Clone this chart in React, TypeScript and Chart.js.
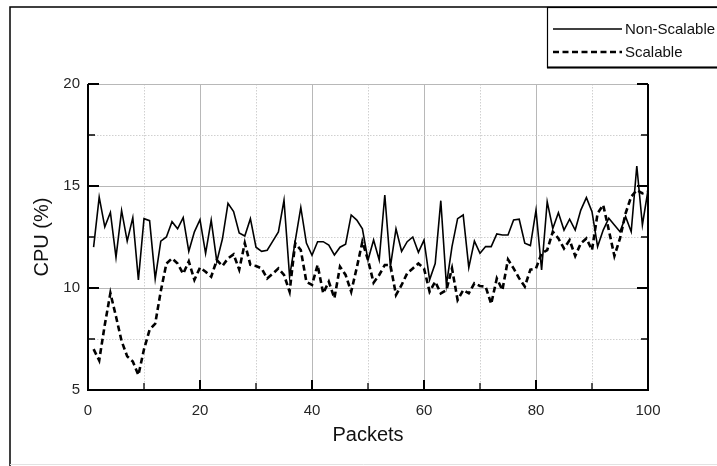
import React, { useEffect, useRef } from 'react';
import { Chart, registerables } from 'chart.js';

Chart.register(...registerables);

const packets = [
  1, 2, 3, 4, 5, 6, 7, 8, 9, 10, 11, 12, 13, 14, 15, 16, 17, 18, 19, 20,
  21, 22, 23, 24, 25, 26, 27, 28, 29, 30, 31, 32, 33, 34, 35, 36, 37, 38, 39, 40,
  41, 42, 43, 44, 45, 46, 47, 48, 49, 50, 51, 52, 53, 54, 55, 56, 57, 58, 59, 60,
  61, 62, 63, 64, 65, 66, 67, 68, 69, 70, 71, 72, 73, 74, 75, 76, 77, 78, 79, 80,
  81, 82, 83, 84, 85, 86, 87, 88, 89, 90, 91, 92, 93, 94, 95, 96, 97, 98, 99, 100,
];

const nonScalable = [
  12.0, 14.45, 13.0, 13.7, 11.5, 13.8, 12.3, 13.45, 10.4, 13.4,
  13.3, 10.45, 12.3, 12.5, 13.25, 12.9, 13.45, 11.8, 12.75, 13.35,
  11.7, 13.33, 11.3, 12.4, 14.15, 13.75, 12.7, 12.55, 13.4, 12.0,
  11.8, 11.85, 12.3, 12.75, 14.3, 10.55, 12.3, 13.95, 12.2, 11.6,
  12.27, 12.27, 12.1, 11.62, 12.0, 12.15, 13.58, 13.33, 12.9, 11.37,
  12.35, 11.37, 14.56, 11.05, 12.9, 11.8, 12.27, 12.5, 11.75, 12.35,
  10.4, 11.2, 14.28, 10.15, 12.03, 13.4, 13.58, 11.0, 12.3, 11.7,
  12.03, 12.03, 12.65, 12.6, 12.6, 13.33, 13.37, 12.2, 12.08, 13.82,
  10.88, 14.23, 12.92, 13.69, 12.84, 13.37, 12.84, 13.82, 14.43, 13.74,
  12.03, 12.84, 13.42, 13.09, 12.76, 13.5, 12.76, 15.98, 13.09, 14.8,
];

const scalable = [
  7.0, 6.45, 8.2, 9.75, 8.6, 7.4, 6.65, 6.4, 5.73, 7.0,
  7.95, 8.25, 9.85, 11.2, 11.45, 11.2, 10.7, 11.3, 10.4, 11.0,
  10.8, 10.55, 11.37, 11.08, 11.45, 11.65, 10.9, 12.2, 11.13, 11.08,
  10.96, 10.47, 10.7, 10.96, 10.64, 9.82, 12.2, 11.86, 10.3, 10.15,
  11.13, 9.74, 10.31, 9.5, 11.05, 10.64, 9.82, 11.0, 12.27, 11.37,
  10.26, 10.64, 11.13, 11.13, 9.66, 10.15, 10.72, 10.96, 11.2, 10.96,
  9.82, 10.31, 9.74, 9.9, 10.96, 9.41, 9.9, 9.74, 10.23, 10.1,
  10.07, 9.22, 10.47, 9.9, 11.4, 10.96, 10.47, 10.07, 10.9, 10.96,
  11.7, 11.86, 12.76, 12.43, 11.94, 12.35, 11.57, 12.19, 12.43, 11.86,
  13.66, 14.07, 12.84, 11.57, 12.43, 13.66, 14.48, 14.8, 14.64, 14.72,
];

const seriesNames = ['Non-Scalable', 'Scalable'];
const xTickLabels = [0, 20, 40, 60, 80, 100];
const yTickLabels = [5, 10, 15, 20];
const xTitle = 'Packets';
const yTitle = 'CPU (%)';

const FONT = "'Liberation Sans', Arial, Helvetica, sans-serif";

const decorPlugin = {
  id: 'decor',
  beforeDraw(chart: any) {
    const ctx = chart.ctx;
    ctx.save();
    ctx.fillStyle = '#ffffff';
    ctx.fillRect(0, 0, chart.width, chart.height);
    ctx.strokeStyle = '#000';
    ctx.lineWidth = 1.5;
    ctx.beginPath();
    ctx.moveTo(10, chart.height);
    ctx.lineTo(10, 7);
    ctx.lineTo(chart.width, 7);
    ctx.stroke();
    ctx.strokeStyle = '#e2e2e2';
    ctx.lineWidth = 1;
    ctx.beginPath();
    ctx.moveTo(10, 464.5);
    ctx.lineTo(chart.width, 464.5);
    ctx.stroke();
    ctx.restore();
  },
  afterDatasetsDraw(chart: any) {
    const ctx = chart.ctx;
    const { left, right, top, bottom } = chart.chartArea;
    const xs = chart.scales.x;
    const ys = chart.scales.y;
    ctx.save();
    ctx.strokeStyle = '#000';
    ctx.setLineDash([]);
    // ticks
    xs.ticks.forEach((t: any) => {
      const px = xs.getPixelForValue(t.value);
      const major = xTickLabels.includes(t.value);
      ctx.lineWidth = major ? 2 : 1.3;
      ctx.beginPath();
      ctx.moveTo(px, bottom);
      ctx.lineTo(px, bottom - (major ? 10 : 7));
      ctx.stroke();
    });
    ys.ticks.forEach((t: any) => {
      const py = ys.getPixelForValue(t.value);
      const major = yTickLabels.includes(t.value);
      const len = major ? 11 : 7;
      ctx.lineWidth = major ? 2 : 1.3;
      ctx.beginPath();
      ctx.moveTo(left, py);
      ctx.lineTo(left + len, py);
      ctx.moveTo(right, py);
      ctx.lineTo(right - len, py);
      ctx.stroke();
    });
    // axes box (no top)
    ctx.lineWidth = 2;
    ctx.beginPath();
    ctx.moveTo(left, top);
    ctx.lineTo(left, bottom);
    ctx.lineTo(right, bottom);
    ctx.lineTo(right, top);
    ctx.stroke();
    ctx.restore();
  },
  afterDraw(chart: any) {
    const ctx = chart.ctx;
    ctx.save();
    // legend box
    const bx = 547, by = 7, bw = 200, bh = 60;
    ctx.fillStyle = '#fff';
    ctx.fillRect(bx, by, bw, bh);
    ctx.strokeStyle = '#000';
    ctx.lineWidth = 1.2;
    ctx.strokeRect(bx + 0.5, by + 0.5, bw, bh);
    ctx.lineWidth = 2;
    ctx.beginPath();
    ctx.moveTo(bx, by + bh + 0.5);
    ctx.lineTo(bx + bw, by + bh + 0.5);
    ctx.stroke();
    chart.data.datasets.forEach((ds: any, i: number) => {
      const y = 29 + i * 23;
      ctx.strokeStyle = ds.borderColor;
      ctx.lineWidth = ds.borderWidth;
      ctx.setLineDash(ds.borderDash || []);
      ctx.beginPath();
      ctx.moveTo(553, y);
      ctx.lineTo(622, y);
      ctx.stroke();
      ctx.setLineDash([]);
      ctx.fillStyle = '#111';
      ctx.font = `15px ${FONT}`;
      ctx.textBaseline = 'middle';
      ctx.textAlign = 'left';
      ctx.fillText(ds.label, 625, y + 1);
    });
    ctx.restore();
  },
};

export default function App() {
  const ref = useRef<HTMLCanvasElement | null>(null);

  useEffect(() => {
    if (!ref.current) return;
    const chart = new Chart(ref.current, {
      type: 'line',
      data: {
        datasets: [
          {
            label: seriesNames[0],
            data: packets.map((p, i) => ({ x: p, y: nonScalable[i] })),
            borderColor: '#000',
            borderWidth: 1.6,
            pointRadius: 0,
            tension: 0,
            fill: false,
          },
          {
            label: seriesNames[1],
            data: packets.map((p, i) => ({ x: p, y: scalable[i] })),
            borderColor: '#000',
            borderWidth: 2.6,
            borderDash: [6, 3.5],
            pointRadius: 0,
            tension: 0,
            fill: false,
          },
        ],
      },
      options: {
        animation: false,
        responsive: false,
        devicePixelRatio: 1,
        layout: { padding: { left: 0, right: 69, top: 84, bottom: 0 } },
        plugins: { legend: { display: false }, tooltip: { enabled: false } },
        scales: {
          x: {
            type: 'linear',
            min: 0,
            max: 100,
            afterFit: (s: any) => { s.height = 76; },
            ticks: {
              stepSize: 10,
              autoSkip: false,
              maxRotation: 0,
              padding: 12,
              color: '#262626',
              font: { family: FONT, size: 15 },
              callback: (v: any) => (xTickLabels.includes(v) ? String(v) : ''),
            },
            grid: {
              drawTicks: false,
              lineWidth: 1,
              color: (c: any) => (c.tick && xTickLabels.includes(c.tick.value) ? '#b8b8b8' : '#d0d0d0'),
            },
            border: {
              display: false,
              dash: (c: any) => (c.tick && xTickLabels.includes(c.tick.value) ? [] : [1.5, 1.5]),
            },
            title: {
              display: true,
              text: xTitle,
              color: '#111',
              font: { family: FONT, size: 20 },
              padding: { top: 0, bottom: 19 },
            },
          },
          y: {
            type: 'linear',
            min: 5,
            max: 20,
            afterFit: (s: any) => { s.width = 88; },
            ticks: {
              stepSize: 2.5,
              autoSkip: false,
              padding: 8,
              color: '#262626',
              font: { family: FONT, size: 15 },
              callback: (v: any) => (yTickLabels.includes(v) ? String(v) : ''),
            },
            grid: {
              drawTicks: false,
              lineWidth: 1,
              color: (c: any) => (c.tick && yTickLabels.includes(c.tick.value) ? '#b8b8b8' : '#d0d0d0'),
            },
            border: {
              display: false,
              dash: (c: any) => (c.tick && yTickLabels.includes(c.tick.value) ? [] : [1.5, 1.5]),
            },
            title: {
              display: true,
              text: yTitle,
              color: '#111',
              font: { family: FONT, size: 20 },
              padding: { top: 30, bottom: 0 },
            },
          },
        },
      },
      plugins: [decorPlugin],
    } as any);
    return () => chart.destroy();
  }, []);

  return (
    <div style={{ position: 'fixed', left: 0, top: 0, width: 717, height: 466, overflow: 'hidden', background: '#fff' }}>
      <canvas ref={ref} width={717} height={466} style={{ width: 717, height: 466, display: 'block' }} />
    </div>
  );
}
